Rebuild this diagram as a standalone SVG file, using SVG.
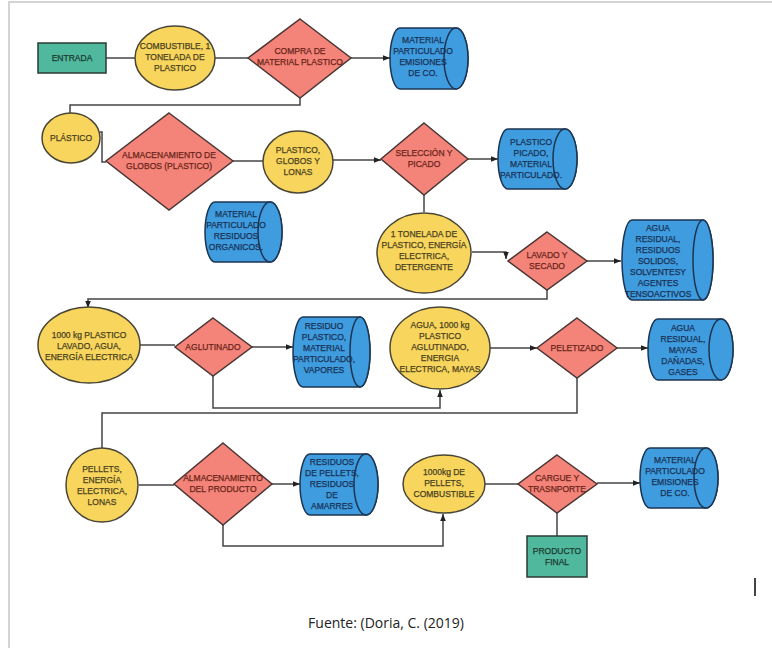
<svg xmlns="http://www.w3.org/2000/svg" width="772" height="648" viewBox="0 0 772 648">
<style>
  text { font-family: "Liberation Sans", Arial, sans-serif; font-size: 8.5px; text-anchor: middle; stroke-width: 0.25; }
  .rect { fill: #4fb89d; stroke: #2d3a36; stroke-width: 1.5; }
  .ell { fill: #f8d55c; stroke: #4a4636; stroke-width: 1.5; }
  .dia { fill: #f4847a; stroke: #4a3634; stroke-width: 1.5; }
  .cyl { fill: #3e9cdf; stroke: #1c3552; stroke-width: 1.5; }
  .ty { fill: #4a4222; stroke: #4a4222; }
  .tr { fill: #6a2418; stroke: #6a2418; }
  .tb { fill: #1a3256; stroke: #1a3256; }
  .tg { fill: #1e3a30; stroke: #1e3a30; }
  .conn path { fill: none; stroke: #444; stroke-width: 1.5; }
  .arr { marker-end: url(#ah); }
</style>
<defs>
  <marker id="ah" viewBox="0 0 10 10" refX="10" refY="5" markerWidth="7" markerHeight="7" orient="auto" markerUnits="userSpaceOnUse">
    <path d="M0,1 L10,5 L0,9 z" fill="#222"/>
  </marker>
</defs>
<rect x="0" y="0" width="772" height="648" fill="#ffffff"/>
<rect x="9" y="2" width="800" height="700" fill="none" stroke="#d4d4d4" stroke-width="2"/>

<g class="conn" id="connectors">
  <path d="M106,58 H135"/>
  <path d="M215,58 H248"/>
  <path class="arr" d="M351,58 H390"/>
  <path d="M300,98 V105 H70 V113"/>
  <path d="M100,132 H102 V162 H106"/>
  <path d="M233,161 H263"/>
  <path class="arr" d="M333,160 H381"/>
  <path class="arr" d="M468,159 H498"/>
  <path d="M424,195 V212"/>
  <path class="arr" d="M472,252 H506 V259"/>
  <path class="arr" d="M587,261 H621"/>
  <path class="arr" d="M547,290 V299 H88 V308"/>
  <path d="M140,345 H175"/>
  <path class="arr" d="M252,347 H293"/>
  <path class="arr" d="M213,376 V408 H440 V390"/>
  <path class="arr" d="M490,348 H537"/>
  <path class="arr" d="M617,348 H648"/>
  <path d="M577,378 V413 H102 V448"/>
  <path d="M139,485 H174"/>
  <path class="arr" d="M272,484 H300"/>
  <path class="arr" d="M223,525 V546 H443 V514"/>
  <path d="M485,484 H518"/>
  <path class="arr" d="M597,483 H640"/>
  <path d="M557,513 V536"/>
</g>

<g id="entrada">
  <rect class="rect" x="38" y="43" width="68" height="30"/>
  <text class="tg" x="72" y="61">ENTRADA</text>
</g>
<g id="combustible">
  <ellipse class="ell" cx="175" cy="58" rx="40" ry="32"/>
  <text class="ty" x="175" y="49">COMBUSTIBLE, 1</text>
  <text class="ty" x="175" y="60">TONELADA DE</text>
  <text class="ty" x="175" y="71">PLASTICO</text>
</g>
<g id="compra">
  <polygon class="dia" points="300,19 351,58 300,98 248,58"/>
  <text class="tr" x="300" y="54">COMPRA DE</text>
  <text class="tr" x="300" y="65">MATERIAL PLASTICO</text>
</g>
<g id="cyl1">
  <path class="cyl" d="M400,28 H456 A12,30.5 0 0 1 456,89 H400 A10,30.5 0 0 1 400,28 Z"/>
  <ellipse class="cyl" cx="456" cy="58.5" rx="12" ry="30.5"/>
  <text class="tb" x="423" y="43">MATERIAL</text>
  <text class="tb" x="423" y="54">PARTICULADO</text>
  <text class="tb" x="423" y="65">EMISIONES</text>
  <text class="tb" x="423" y="76">DE CO.</text>
</g>

<g id="plastico">
  <ellipse class="ell" cx="71" cy="138" rx="29" ry="25"/>
  <text class="ty" x="71" y="141">PLÁSTICO</text>
</g>
<g id="almacenamiento-globos">
  <polygon class="dia" points="169,113 233,161 169,210 106,161"/>
  <text class="tr" x="169" y="158">ALMACENAMIENTO DE</text>
  <text class="tr" x="169" y="169">GLOBOS (PLASTICO)</text>
</g>
<g id="cyl2">
  <path class="cyl" d="M215,202 H270 A12,30 0 0 1 270,262 H215 A10,30 0 0 1 215,202 Z"/>
  <ellipse class="cyl" cx="270" cy="232" rx="12" ry="30"/>
  <text class="tb" x="236" y="217">MATERIAL</text>
  <text class="tb" x="236" y="228">PARTICULADO</text>
  <text class="tb" x="236" y="239">RESIDUOS</text>
  <text class="tb" x="236" y="250">ORGANICOS.</text>
</g>
<g id="plastico-globos-lonas">
  <ellipse class="ell" cx="298" cy="162" rx="35" ry="31"/>
  <text class="ty" x="298" y="153">PLASTICO,</text>
  <text class="ty" x="298" y="164">GLOBOS Y</text>
  <text class="ty" x="298" y="175">LONAS</text>
</g>
<g id="seleccion">
  <polygon class="dia" points="424,123 468,159 424,195 381,159"/>
  <text class="tr" x="424" y="156">SELECCIÓN Y</text>
  <text class="tr" x="424" y="167">PICADO</text>
</g>
<g id="cyl3">
  <path class="cyl" d="M508,129 H565 A12,30 0 0 1 565,189 H508 A10,30 0 0 1 508,129 Z"/>
  <ellipse class="cyl" cx="565" cy="159" rx="12" ry="30"/>
  <text class="tb" x="531" y="145">PLASTICO</text>
  <text class="tb" x="531" y="156">PICADO,</text>
  <text class="tb" x="531" y="167">MATERIAL</text>
  <text class="tb" x="531" y="178">PARTICULADO.</text>
</g>
<g id="tonelada">
  <ellipse class="ell" cx="424" cy="253" rx="47" ry="40"/>
  <text class="ty" x="424" y="237">1 TONELADA DE</text>
  <text class="ty" x="424" y="248">PLASTICO, ENERGÍA</text>
  <text class="ty" x="424" y="259">ELECTRICA,</text>
  <text class="ty" x="424" y="270">DETERGENTE</text>
</g>
<g id="lavado">
  <polygon class="dia" points="547,232 587,261 547,290 508,261"/>
  <text class="tr" x="547" y="258">LAVADO Y</text>
  <text class="tr" x="547" y="269">SECADO</text>
</g>
<g id="cyl4">
  <path class="cyl" d="M632,220 H703 A10,40 0 0 1 703,300 H632 A10,40 0 0 1 632,220 Z"/>
  <ellipse class="cyl" cx="703" cy="260" rx="10" ry="40"/>
  <text class="tb" x="658" y="231">AGUA</text>
  <text class="tb" x="658" y="242">RESIDUAL,</text>
  <text class="tb" x="658" y="253">RESIDUOS</text>
  <text class="tb" x="658" y="264">SOLIDOS,</text>
  <text class="tb" x="658" y="275">SOLVENTESY</text>
  <text class="tb" x="658" y="286">AGENTES</text>
  <text class="tb" x="658" y="297">TENSOACTIVOS</text>
</g>

<g id="plastico-lavado">
  <ellipse class="ell" cx="89" cy="345" rx="51" ry="38"/>
  <text class="ty" x="89" y="338">1000 kg PLASTICO</text>
  <text class="ty" x="89" y="349">LAVADO, AGUA,</text>
  <text class="ty" x="89" y="360">ENERGÍA ELECTRICA</text>
</g>
<g id="aglutinado">
  <polygon class="dia" points="213,318 252,347 213,376 175,347"/>
  <text class="tr" x="213" y="350">AGLUTINADO</text>
</g>
<g id="cyl5">
  <path class="cyl" d="M303,317 H360 A10,35 0 0 1 360,387 H303 A10,35 0 0 1 303,317 Z"/>
  <ellipse class="cyl" cx="360" cy="352" rx="10" ry="35"/>
  <text class="tb" x="324" y="329">RESIDUO</text>
  <text class="tb" x="324" y="340">PLASTICO,</text>
  <text class="tb" x="324" y="351">MATERIAL</text>
  <text class="tb" x="324" y="362">PARTICULADO,</text>
  <text class="tb" x="324" y="373">VAPORES</text>
</g>
<g id="agua-aglutinado">
  <ellipse class="ell" cx="440" cy="348" rx="50" ry="41"/>
  <text class="ty" x="440" y="328">AGUA, 1000 kg</text>
  <text class="ty" x="440" y="339">PLASTICO</text>
  <text class="ty" x="440" y="350">AGLUTINADO,</text>
  <text class="ty" x="440" y="361">ENERGIA</text>
  <text class="ty" x="440" y="372">ELECTRICA, MAYAS</text>
</g>
<g id="peletizado">
  <polygon class="dia" points="577,318 617,348 577,378 537,348"/>
  <text class="tr" x="577" y="351">PELETIZADO</text>
</g>
<g id="cyl6">
  <path class="cyl" d="M658,319 H721 A12,30.5 0 0 1 721,380 H658 A10,30.5 0 0 1 658,319 Z"/>
  <ellipse class="cyl" cx="721" cy="349.5" rx="12" ry="30.5"/>
  <text class="tb" x="683" y="331">AGUA</text>
  <text class="tb" x="683" y="342">RESIDUAL,</text>
  <text class="tb" x="683" y="353">MAYAS</text>
  <text class="tb" x="683" y="364">DAÑADAS,</text>
  <text class="tb" x="683" y="375">GASES</text>
</g>

<g id="pellets">
  <ellipse class="ell" cx="102" cy="485" rx="36" ry="37"/>
  <text class="ty" x="102" y="472">PELLETS,</text>
  <text class="ty" x="102" y="483">ENERGÍA</text>
  <text class="ty" x="102" y="494">ELECTRICA,</text>
  <text class="ty" x="102" y="505">LONAS</text>
</g>
<g id="almacenamiento-producto">
  <polygon class="dia" points="223,443 272,484 223,525 174,484"/>
  <text class="tr" x="223" y="481">ALMACENAMIENTO</text>
  <text class="tr" x="223" y="492">DEL PRODUCTO</text>
</g>
<g id="cyl7">
  <path class="cyl" d="M310,454 H366 A12,30.5 0 0 1 366,515 H310 A10,30.5 0 0 1 310,454 Z"/>
  <ellipse class="cyl" cx="366" cy="484.5" rx="12" ry="30.5"/>
  <text class="tb" x="332" y="465">RESIDUOS</text>
  <text class="tb" x="332" y="476">DE PELLETS,</text>
  <text class="tb" x="332" y="487">RESIDUOS</text>
  <text class="tb" x="332" y="498">DE</text>
  <text class="tb" x="332" y="509">AMARRES</text>
</g>
<g id="pellets-combustible">
  <ellipse class="ell" cx="444" cy="484" rx="41" ry="29"/>
  <text class="ty" x="444" y="475">1000kg DE</text>
  <text class="ty" x="444" y="486">PELLETS,</text>
  <text class="ty" x="444" y="497">COMBUSTIBLE</text>
</g>
<g id="cargue">
  <polygon class="dia" points="557,455 597,484 557,513 518,484"/>
  <text class="tr" x="557" y="481">CARGUE Y</text>
  <text class="tr" x="557" y="492">TRASNPORTE</text>
</g>
<g id="cyl8">
  <path class="cyl" d="M650,448 H706 A12,30 0 0 1 706,508 H650 A10,30 0 0 1 650,448 Z"/>
  <ellipse class="cyl" cx="706" cy="478" rx="12" ry="30"/>
  <text class="tb" x="675" y="463">MATERIAL</text>
  <text class="tb" x="675" y="474">PARTICULADO</text>
  <text class="tb" x="675" y="485">EMISIONES</text>
  <text class="tb" x="675" y="496">DE CO.</text>
</g>
<g id="producto-final">
  <rect class="rect" x="527" y="536" width="60" height="41"/>
  <text class="tg" x="557" y="554">PRODUCTO</text>
  <text class="tg" x="557" y="565">FINAL</text>
</g>

<rect x="754" y="578" width="2" height="18" fill="#444"/>
<text x="386" y="628" style="font-family:'Open Sans', 'Liberation Sans', sans-serif; font-size:14px; fill:#222; stroke:none;">Fuente: (Doria, C. (2019)</text>
</svg>
